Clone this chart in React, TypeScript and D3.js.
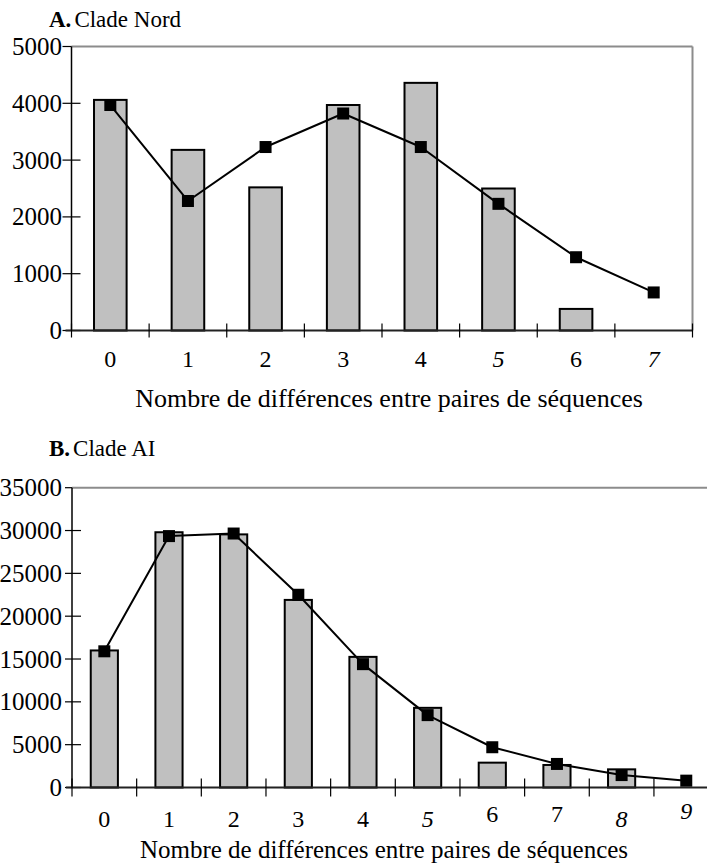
import React, { useEffect, useRef } from "react";
import * as d3 from "d3";

// panel A : Clade Nord
const categoriesA = ["0", "1", "2", "3", "4", "5", "6", "7"];
const barsA = [4060, 3180, 2520, 3970, 4360, 2500, 380];
const lineA = [3970, 2280, 3230, 3820, 3230, 2230, 1290, 670];
const yTicksA = [0, 1000, 2000, 3000, 4000, 5000];

// panel B : Clade AI
const categoriesB = ["0", "1", "2", "3", "4", "5", "6", "7", "8", "9"];
const barsB = [16000, 29800, 29550, 21900, 15250, 9300, 2900, 2630, 2120];
const lineB = [15900, 29350, 29650, 22500, 14400, 8450, 4700, 2750, 1450, 800];
const yTicksB = [0, 5000, 10000, 15000, 20000, 25000, 30000, 35000];

const xTitle = "Nombre de différences entre paires de séquences";

const FONT = "'Liberation Serif', 'Times New Roman', Times, serif";

type Panel = {
  categories: string[];
  bars: number[];
  line: number[];
  yTicks: number[];
  title: [string, string];
  xRange: [number, number];
  yRange: [number, number];
  titleY: number;
  labelY: number;
  axisTitleX: number;
  axisTitleY: number;
  axisTitleSize: number;
  italic: string[];
  labelShift: Record<string, number>;
  rightFrame: boolean;
  xTick: number;
  yTickOut: number;
};

function drawPanel(svg: d3.Selection<SVGSVGElement, unknown, null, undefined>, p: Panel) {
  const g = svg.append("g");
  const x = d3.scaleBand<string>().domain(p.categories).range(p.xRange);
  const yMax = p.yTicks[p.yTicks.length - 1];
  const y = d3.scaleLinear().domain([0, yMax]).range(p.yRange);
  const bw = x.bandwidth();
  const barW = bw * 0.42;
  const x0 = p.xRange[0];
  const x1 = Math.min(p.xRange[1], 710);
  const cx = (c: string) => (x(c) as number) + bw / 2;

  // title
  const t = g
    .append("text")
    .attr("x", 49)
    .attr("y", p.titleY)
    .style("font-family", FONT)
    .style("font-size", "23px");
  t.append("tspan").style("font-weight", "bold").text(p.title[0]);
  t.append("tspan").attr("dx", 3).text(p.title[1]);

  // frame (top and right, gray)
  g.append("line")
    .attr("x1", x0)
    .attr("x2", x1)
    .attr("y1", y(yMax))
    .attr("y2", y(yMax))
    .style("stroke", "#8c8c8c")
    .style("stroke-width", 2);
  if (p.rightFrame) {
    g.append("line")
      .attr("x1", x1)
      .attr("x2", x1)
      .attr("y1", y(yMax))
      .attr("y2", y(0))
      .style("stroke", "#8c8c8c")
      .style("stroke-width", 2);
  }

  // bars
  g.append("g")
    .selectAll("rect")
    .data(p.bars)
    .enter()
    .append("rect")
    .attr("x", (d, i) => cx(p.categories[i]) - barW / 2)
    .attr("y", (d) => y(d))
    .attr("width", barW)
    .attr("height", (d) => y(0) - y(d))
    .style("fill", "#c0c0c0")
    .style("stroke", "#000")
    .style("stroke-width", 2);

  // y axis
  g.append("line")
    .attr("x1", x0)
    .attr("x2", x0)
    .attr("y1", y(yMax))
    .attr("y2", y(0))
    .style("stroke", "#000")
    .style("stroke-width", 1.5);
  g.append("g")
    .selectAll("line")
    .data(p.yTicks)
    .enter()
    .append("line")
    .attr("x1", x0 - p.yTickOut)
    .attr("x2", (d) => (d === yMax ? x0 : x0 + 9))
    .attr("y1", (d) => y(d))
    .attr("y2", (d) => y(d))
    .style("stroke", "#000")
    .style("stroke-width", 1.2);
  g.append("g")
    .selectAll("text")
    .data(p.yTicks)
    .enter()
    .append("text")
    .attr("x", 62)
    .attr("y", (d) => y(d))
    .attr("dy", "0.34em")
    .attr("text-anchor", "end")
    .style("font-family", FONT)
    .style("font-size", "25px")
    .text((d) => String(d));

  // x axis
  g.append("line")
    .attr("x1", x0 - 6)
    .attr("x2", x1)
    .attr("y1", y(0))
    .attr("y2", y(0))
    .style("stroke", "#222")
    .style("stroke-width", 2);
  const bounds = d3.range(p.categories.length + 1).map((i) => x0 + i * x.step());
  g.append("g")
    .selectAll("line")
    .data(bounds)
    .enter()
    .append("line")
    .attr("x1", (d) => d)
    .attr("x2", (d) => d)
    .attr("y1", y(0) - p.xTick)
    .attr("y2", y(0) + p.xTick)
    .style("stroke", "#000")
    .style("stroke-width", 1.2);
  g.append("g")
    .selectAll("text")
    .data(p.categories)
    .enter()
    .append("text")
    .attr("x", (d) => cx(d))
    .attr("y", (d) => p.labelY - (p.labelShift[d] || 0))
    .attr("text-anchor", "middle")
    .style("font-family", FONT)
    .style("font-size", "24px")
    .style("font-style", (d) => (p.italic.includes(d) ? "italic" : "normal"))
    .text((d) => d);

  g.append("text")
    .attr("x", p.axisTitleX)
    .attr("y", p.axisTitleY)
    .attr("text-anchor", "middle")
    .style("font-family", FONT)
    .style("font-size", p.axisTitleSize + "px")
    .text(xTitle);

  // line + square markers
  const line = d3
    .line<number>()
    .x((d, i) => cx(p.categories[i]))
    .y((d) => y(d));
  g.append("path")
    .datum(p.line)
    .attr("d", line)
    .style("fill", "none")
    .style("stroke", "#000")
    .style("stroke-width", 2)
    .style("stroke-linejoin", "round");
  g.append("g")
    .selectAll("rect")
    .data(p.line)
    .enter()
    .append("rect")
    .attr("x", (d, i) => cx(p.categories[i]) - 6)
    .attr("y", (d) => y(d) - 6)
    .attr("width", 12)
    .attr("height", 12)
    .style("fill", "#000");
}

function MakeSvg(ref: React.MutableRefObject<SVGSVGElement | null>) {
  const svg = d3.select(ref.current as SVGSVGElement);
  svg.selectAll("*").remove();

  drawPanel(svg, {
    categories: categoriesA,
    bars: barsA,
    line: lineA,
    yTicks: yTicksA,
    title: ["A.", "Clade Nord"],
    xRange: [71.5, 692.5],
    yRange: [330.5, 46.5],
    titleY: 27,
    labelY: 367,
    axisTitleX: 389,
    axisTitleY: 407,
    axisTitleSize: 26,
    italic: ["5", "7"],
    labelShift: {},
    rightFrame: true,
    xTick: 7,
    yTickOut: 9,
  });

  drawPanel(svg, {
    categories: categoriesB,
    bars: barsB,
    line: lineB,
    yTicks: yTicksB,
    title: ["B.", "Clade AI"],
    xRange: [72, 718.6],
    yRange: [787.5, 487.7],
    titleY: 456,
    labelY: 827,
    axisTitleX: 384,
    axisTitleY: 858,
    axisTitleSize: 25,
    italic: ["5", "8", "9"],
    labelShift: { "6": 5, "7": 5, "9": 8 },
    rightFrame: false,
    xTick: 9,
    yTickOut: 7,
  });
}

const App = () => {
  const ref = useRef<SVGSVGElement | null>(null);
  useEffect(() => {
    MakeSvg(ref);
  }, []);

  return (
    <svg
      ref={ref}
      width={707}
      height={868}
      style={{ position: "absolute", left: 0, top: 0, background: "#fff" }}
    />
  );
};

export default App;
